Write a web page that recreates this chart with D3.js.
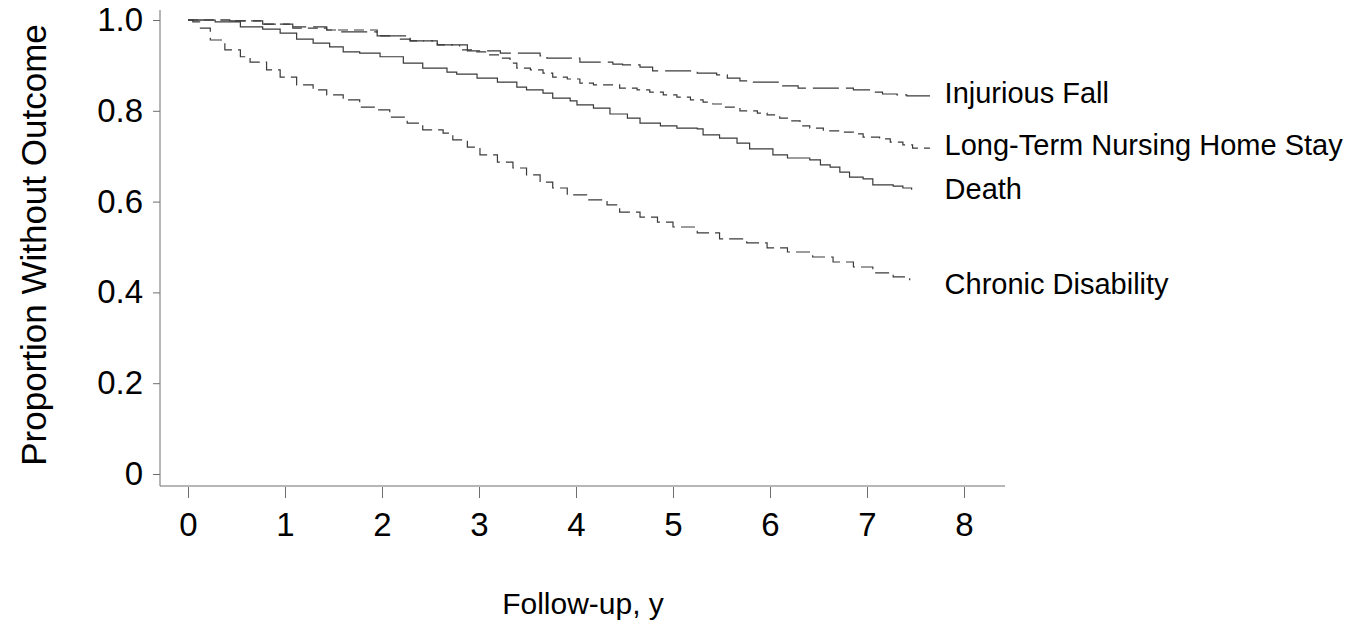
<!DOCTYPE html>
<html>
<head>
    <title>Proportion Without Outcome</title>
    <script src="https://d3js.org/d3.v7.min.js"></script>
    <style>
        body {
            margin: 0;
            background: #ffffff;
            font-family: 'Liberation Sans', Arial, Helvetica, sans-serif;
        }
        #chart { width: 1363px; height: 626px; }
    </style>
</head>
<body>
    <div id="chart"></div>

    <script>
        // Kaplan-Meier style curves: [year, proportion]
        const injuriousFall = [
            [0, 1.0], [0.43, 0.998], [0.77, 0.991], [1.08, 0.985], [1.43, 0.978], [1.57, 0.974],
            [1.95, 0.965], [2.19, 0.958], [2.29, 0.954], [2.57, 0.945], [2.88, 0.932], [3.22, 0.927],
            [3.63, 0.921], [3.70, 0.916], [4.04, 0.907], [4.38, 0.903], [4.48, 0.901], [4.66, 0.896],
            [4.79, 0.888], [5.25, 0.883], [5.45, 0.879], [5.56, 0.872], [5.69, 0.866], [5.82, 0.863],
            [6.13, 0.855], [6.29, 0.850], [6.86, 0.846], [7.06, 0.841], [7.16, 0.837], [7.31, 0.835],
            [7.41, 0.833], [7.65, 0.833]
        ];
        const nursingHome = [
            [0, 1.0], [0.43, 0.998], [0.77, 0.991], [1.08, 0.982], [1.43, 0.978], [1.95, 0.965],
            [2.29, 0.954], [2.57, 0.945], [2.80, 0.934], [2.94, 0.930], [3.11, 0.923], [3.22, 0.916],
            [3.32, 0.905], [3.39, 0.894], [3.53, 0.890], [3.66, 0.883], [3.76, 0.874], [3.91, 0.870],
            [4.04, 0.861], [4.18, 0.857], [4.45, 0.850], [4.63, 0.846], [4.76, 0.841], [4.90, 0.835],
            [5.04, 0.830], [5.18, 0.824], [5.31, 0.819], [5.41, 0.815], [5.52, 0.808], [5.69, 0.800],
            [5.87, 0.795], [5.97, 0.791], [6.10, 0.784], [6.21, 0.778], [6.31, 0.767], [6.41, 0.762],
            [6.55, 0.756], [6.75, 0.753], [6.86, 0.749], [6.96, 0.742], [7.13, 0.738], [7.24, 0.731],
            [7.37, 0.725], [7.47, 0.718], [7.65, 0.718]
        ];
        const death = [
            [0, 1.0], [0.28, 0.996], [0.54, 0.985], [0.77, 0.980], [0.95, 0.971], [1.12, 0.958],
            [1.29, 0.949], [1.46, 0.941], [1.60, 0.930], [1.77, 0.927], [1.98, 0.919], [2.22, 0.905],
            [2.42, 0.894], [2.67, 0.885], [2.77, 0.881], [2.98, 0.872], [3.19, 0.863], [3.39, 0.852],
            [3.49, 0.846], [3.66, 0.839], [3.76, 0.828], [3.94, 0.822], [4.01, 0.813], [4.18, 0.806],
            [4.35, 0.793], [4.53, 0.784], [4.66, 0.773], [4.87, 0.767], [5.04, 0.762], [5.25, 0.760],
            [5.31, 0.747], [5.48, 0.740], [5.66, 0.729], [5.79, 0.716], [6.03, 0.703], [6.18, 0.696],
            [6.41, 0.692], [6.52, 0.681], [6.62, 0.676], [6.72, 0.665], [6.82, 0.654], [6.96, 0.650],
            [7.06, 0.637], [7.27, 0.634], [7.37, 0.630], [7.46, 0.626]
        ];
        const chronicDisability = [
            [0, 1.0], [0.05, 0.996], [0.12, 0.982], [0.23, 0.956], [0.38, 0.934], [0.54, 0.919],
            [0.64, 0.907], [0.81, 0.890], [0.95, 0.874], [1.12, 0.857], [1.29, 0.846], [1.43, 0.835],
            [1.60, 0.824], [1.77, 0.808], [1.95, 0.802], [2.08, 0.786], [2.26, 0.773], [2.42, 0.758],
            [2.63, 0.751], [2.73, 0.736], [2.88, 0.720], [3.01, 0.703], [3.19, 0.687], [3.35, 0.674],
            [3.49, 0.659], [3.63, 0.643], [3.76, 0.630], [3.91, 0.615], [4.11, 0.604], [4.32, 0.593],
            [4.45, 0.577], [4.66, 0.566], [4.84, 0.555], [5.00, 0.544], [5.25, 0.531], [5.48, 0.518],
            [5.76, 0.509], [5.97, 0.498], [6.18, 0.489], [6.44, 0.478], [6.65, 0.467], [6.86, 0.456],
            [7.06, 0.443], [7.27, 0.434], [7.44, 0.427]
        ];

        const seriesNames = ['Injurious Fall', 'Long-Term Nursing Home Stay', 'Death', 'Chronic Disability'];
        const seriesData = [injuriousFall, nursingHome, death, chronicDisability];
        const labelValues = [0.839, 0.725, 0.628, 0.418];
        const dashes = ['26,7', '10,6', null, '14,6'];

        const xTicks = [0, 1, 2, 3, 4, 5, 6, 7, 8];
        const yTicks = [0, 0.2, 0.4, 0.6, 0.8, 1.0];
        const yTickLabels = ['0', '0.2', '0.4', '0.6', '0.8', '1.0'];

        const width = 1363;
        const height = 626;

        const svg = d3.select('#chart')
            .append('svg')
            .attr('width', width)
            .attr('height', height);

        const x = d3.scaleLinear().domain([0, 8]).range([188, 964]);
        const y = d3.scaleLinear().domain([0, 1]).range([474, 20]);

        const axisColor = '#6e6e6e';

        // y axis
        const yAxis = svg.append('g')
            .attr('transform', 'translate(160,0)')
            .call(d3.axisLeft(y)
                .tickValues(yTicks)
                .tickSize(7)
                .tickPadding(10)
                .tickFormat((d, i) => yTickLabels[i]));
        yAxis.select('.domain').remove();
        yAxis.append('line')
            .attr('x1', 0).attr('x2', 0)
            .attr('y1', 10).attr('y2', 486)
            .attr('stroke', axisColor);

        // x axis
        const xAxis = svg.append('g')
            .attr('transform', 'translate(0,487)')
            .call(d3.axisBottom(x)
                .tickValues(xTicks)
                .tickSize(11)
                .tickPadding(15)
                .tickFormat(d3.format('d')));
        xAxis.select('.domain').remove();
        xAxis.append('line')
            .attr('x1', 160).attr('x2', 1005)
            .attr('y1', -1).attr('y2', -1)
            .attr('stroke', axisColor);

        svg.selectAll('.tick line').attr('stroke', axisColor);
        svg.selectAll('.tick text')
            .attr('fill', '#000')
            .style('font-family', "'Liberation Sans', Arial, sans-serif")
            .style('font-size', '33px');

        // curves
        const line = d3.line()
            .x(d => x(d[0]))
            .y(d => y(d[1]))
            .curve(d3.curveStepAfter);

        svg.append('g')
            .selectAll('path')
            .data(seriesData)
            .enter().append('path')
            .attr('d', line)
            .attr('fill', 'none')
            .attr('stroke', '#3a3a3a')
            .attr('stroke-width', 1.2)
            .attr('stroke-dasharray', (d, i) => dashes[i]);

        // curve labels
        svg.append('g')
            .selectAll('text')
            .data(seriesNames)
            .enter().append('text')
            .attr('x', x(7.8))
            .attr('y', (d, i) => y(labelValues[i]))
            .attr('dy', '0.35em')
            .attr('font-size', '29px')
            .attr('fill', '#000')
            .text(d => d);

        // axis titles
        svg.append('text')
            .attr('transform', 'translate(46,245) rotate(-90)')
            .attr('text-anchor', 'middle')
            .attr('font-size', '35px')
            .attr('fill', '#000')
            .text('Proportion Without Outcome');

        svg.append('text')
            .attr('x', 583)
            .attr('y', 614)
            .attr('text-anchor', 'middle')
            .attr('font-size', '30px')
            .attr('fill', '#000')
            .text('Follow-up, y');
    </script>
</body>
</html>
